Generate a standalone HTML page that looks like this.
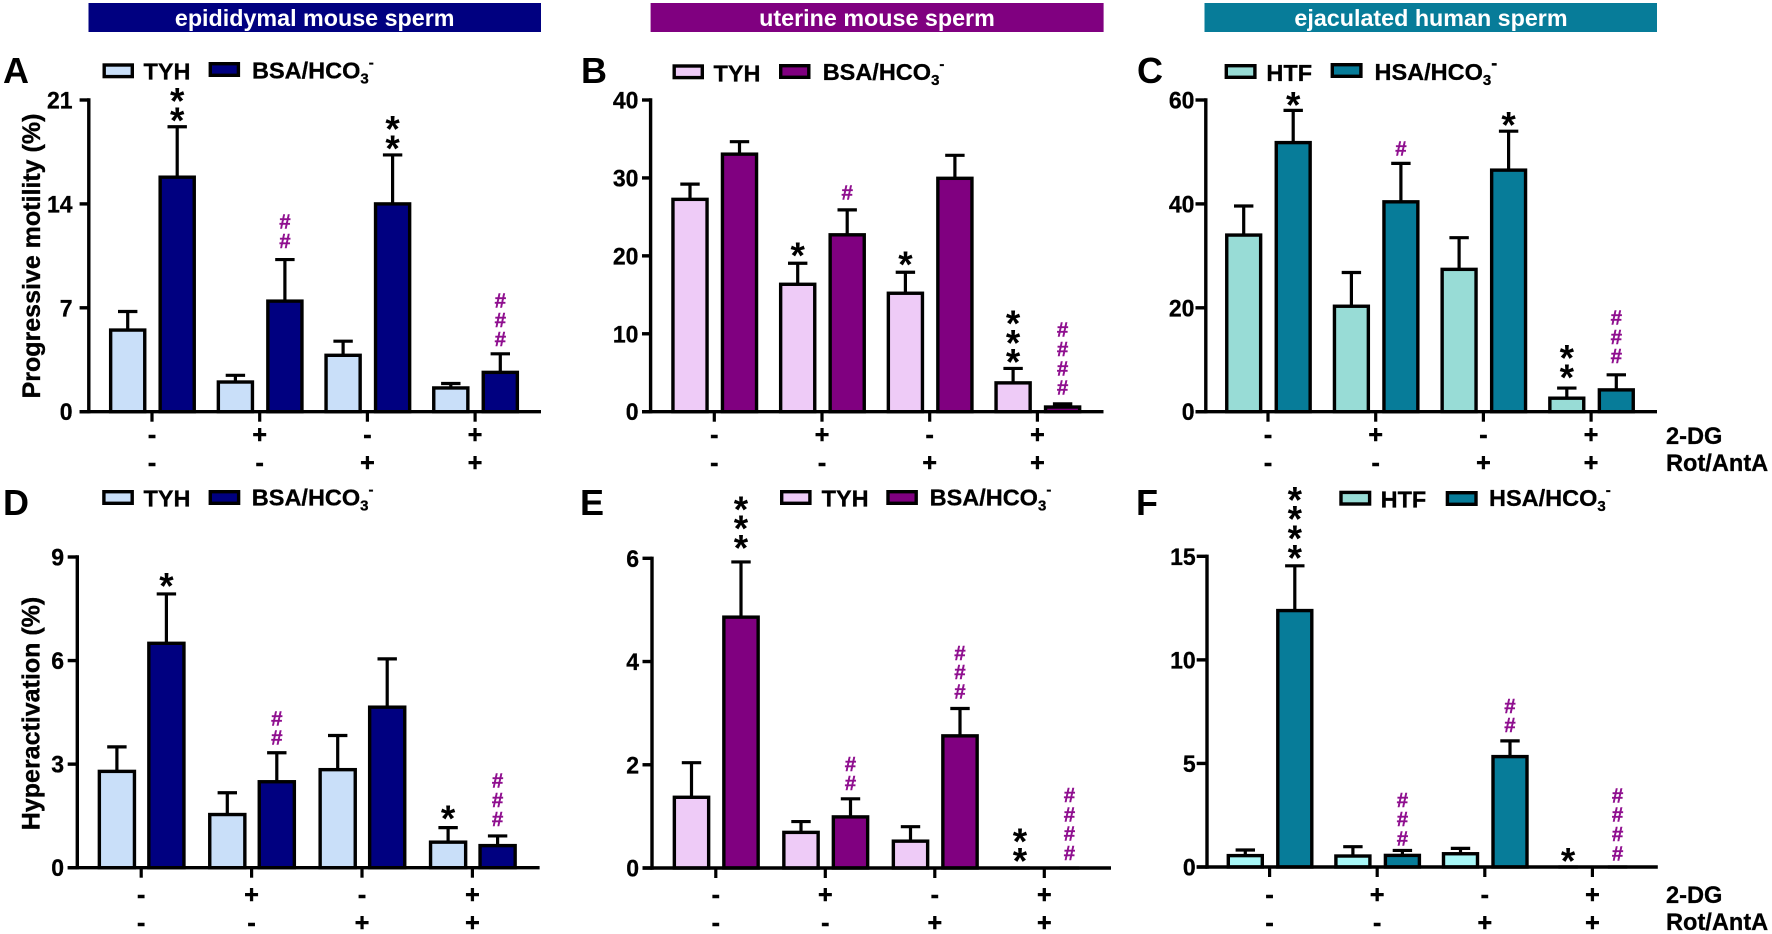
<!DOCTYPE html>
<html lang="en">
<head>
<meta charset="utf-8">
<title>Progressive motility and hyperactivation of sperm</title>
<style>
html,body{margin:0;padding:0;background:#fff;}
svg{display:block;font-family:"Liberation Sans",sans-serif;font-weight:bold;}
</style>
</head>
<body>
<svg id="figure" xmlns="http://www.w3.org/2000/svg" width="1772" height="934" viewBox="0 0 1772 934">
  <rect x="0" y="0" width="1772" height="934" fill="#ffffff"/>
  <g text-anchor="middle" fill="#ffffff" font-size="23.3">
    <rect x="88.5" y="3" width="452.5" height="29" fill="#000080"/>
    <text x="314.7" y="26">epididymal mouse sperm</text>
    <rect x="650.6" y="3" width="453" height="29" fill="#800080"/>
    <text x="877" y="26">uterine mouse sperm</text>
    <rect x="1204.5" y="3" width="452.5" height="29" fill="#077c99"/>
    <text x="1431" y="26">ejaculated human sperm</text>
  </g>
  <g font-size="23.6" fill="#000" stroke="#000" stroke-width="0.3">
    <text x="1666" y="444">2-DG</text>
    <text x="1666" y="471">Rot/AntA</text>
    <text x="1666" y="903">2-DG</text>
    <text x="1666" y="930">Rot/AntA</text>
  </g>
</svg>
<script>
// Shared x-axis treatment rows
const twoDgRow = ['-', '+', '-', '+'];
const rotAntARow = ['-', '-', '+', '+'];

// Panel A: progressive motility, epididymal mouse sperm
const aTicks = [0, 7, 14, 21];
const aControl = [5.5, 2.0, 3.8, 1.6];
const aControlErr = [1.25, 0.45, 0.95, 0.3];
const aTreated = [15.8, 7.45, 14.0, 2.65];
const aTreatedErr = [3.4, 2.8, 3.3, 1.25];
const aStars = [0, 2, 0, 0, 0, 2, 0, 0];
const aHashes = [0, 0, 0, 2, 0, 0, 0, 3];

// Panel B: progressive motility, uterine mouse sperm
const bTicks = [0, 10, 20, 30, 40];
const bControl = [27.25, 16.35, 15.2, 3.7];
const bControlErr = [1.95, 2.7, 2.7, 1.85];
const bTreated = [33.05, 22.7, 29.95, 0.6];
const bTreatedErr = [1.6, 3.2, 2.95, 0.4];
const bStars = [0, 0, 1, 0, 1, 0, 3, 0];
const bHashes = [0, 0, 0, 1, 0, 0, 0, 4];

// Panel C: progressive motility, ejaculated human sperm
const cTicks = [0, 20, 40, 60];
const cControl = [34.0, 20.3, 27.4, 2.6];
const cControlErr = [5.6, 6.5, 6.1, 1.95];
const cTreated = [51.8, 40.4, 46.5, 4.2];
const cTreatedErr = [6.2, 7.4, 7.5, 2.9];
const cStars = [0, 1, 0, 0, 0, 1, 2, 0];
const cHashes = [0, 0, 0, 1, 0, 0, 0, 3];

// Panel D: hyperactivation, epididymal mouse sperm
const dTicks = [0, 3, 6, 9];
const dControl = [2.79, 1.54, 2.84, 0.74];
const dControlErr = [0.71, 0.63, 0.99, 0.42];
const dTreated = [6.5, 2.49, 4.65, 0.64];
const dTreatedErr = [1.43, 0.84, 1.4, 0.28];
const dStars = [0, 1, 0, 0, 0, 0, 1, 0];
const dHashes = [0, 0, 0, 2, 0, 0, 0, 3];

// Panel E: hyperactivation, uterine mouse sperm
const eTicks = [0, 2, 4, 6];
const eControl = [1.37, 0.69, 0.52, 0];
const eControlErr = [0.67, 0.21, 0.28, 0];
const eTreated = [4.86, 0.99, 2.56, 0];
const eTreatedErr = [1.07, 0.35, 0.53, 0];
const eStars = [0, 3, 0, 0, 0, 0, 2, 0];
const eHashes = [0, 0, 0, 2, 0, 3, 0, 4];

// Panel F: hyperactivation, ejaculated human sperm
const fTicks = [0, 5, 10, 15];
const fControl = [0.55, 0.53, 0.64, 0];
const fControlErr = [0.27, 0.45, 0.26, 0];
const fTreated = [12.38, 0.56, 5.33, 0];
const fTreatedErr = [2.16, 0.24, 0.76, 0];
const fStars = [0, 4, 0, 0, 0, 0, 1, 0];
const fHashes = [0, 0, 0, 3, 0, 2, 0, 4];

const NS = 'http://www.w3.org/2000/svg';
const figure = document.getElementById('figure');

function make(tag, parent, attrs, text) {
  const el = document.createElementNS(NS, tag);
  for (const k in attrs) { el.setAttribute(k, attrs[k]); }
  if (text !== undefined) { el.textContent = text; }
  parent.appendChild(el);
  return el;
}

const panels = [
  { id: 'a', letter: 'A', letterX: 3, letterY: 83, yTitle: 'Progressive motility (%)', titleX: 40, titleY: 256,
    axisX: 88.8, top: 100, base: 411.7, tickLeft: 79.6, xEnd: 541, labelGap: 7, group0: 152, groupStep: 107.7, barW: 37.5,
    row1Y: 443, row2Y: 471, ticks: aTicks, control: aControl, controlErr: aControlErr, treated: aTreated, treatedErr: aTreatedErr, stars: aStars, hashes: aHashes,
    starGap: { 1: 14.3, 5: 14.6 }, hashGap: { 3: 18.7, 7: 14.7 }, supSize: 15,
    light: '#c9dff9', dark: '#000080', legendLight: '#c9dff9', names: ['TYH', 'BSA/HCO'],
    sw1: [102.5, 63.3], sw2: [208.6, 62], swW: 31.5, swH: 15, t1: [143.5, 79.3], t2: [252, 78.3] },
  { id: 'b', letter: 'B', letterX: 581, letterY: 83, axisX: 650.6, top: 100, base: 411.7, tickLeft: 642, xEnd: 1103.5, labelGap: 3.5, group0: 714.3, groupStep: 107.7, barW: 37.5,
    row1Y: 443, row2Y: 471, ticks: bTicks, control: bControl, controlErr: bControlErr, treated: bTreated, treatedErr: bTreatedErr, stars: bStars, hashes: bHashes,
    starGap: { 2: 16, 4: 15.6, 6: 14.3 }, hashGap: { 3: 17.3, 7: 16.3 }, supSize: 15,
    light: '#eecbf7', dark: '#800080', legendLight: '#eecbf7', names: ['TYH', 'BSA/HCO'],
    sw1: [672.5, 64.3], sw2: [779, 64], swW: 31.5, swH: 15, t1: [713.5, 81.7], t2: [822.7, 80] },
  { id: 'c', letter: 'C', letterX: 1137, letterY: 83, axisX: 1205.8, top: 100, base: 411.7, tickLeft: 1195.5, xEnd: 1657, labelGap: 1, group0: 1268, groupStep: 107.7, barW: 37.3,
    row1Y: 443, row2Y: 471, ticks: cTicks, control: cControl, controlErr: cControlErr, treated: cTreated, treatedErr: cTreatedErr, stars: cStars, hashes: cHashes,
    starGap: { 1: 13.6, 5: 14.3, 6: 18.7 }, hashGap: { 3: 15, 7: 18.7 }, supSize: 18,
    light: '#98dcd6', dark: '#077c99', legendLight: '#98dcd6', names: ['HTF', 'HSA/HCO'],
    sw1: [1224.6, 64], sw2: [1330.6, 63], swW: 32, swH: 15, t1: [1266.4, 81], t2: [1374.5, 80] },
  { id: 'd', letter: 'D', letterX: 3, letterY: 515, yTitle: 'Hyperactivation (%)', titleX: 39.5, titleY: 713.5,
    axisX: 77.3, top: 557, base: 867.7, tickLeft: 67.7, xEnd: 539.6, labelGap: 3.7, group0: 141.2, groupStep: 110.4, barW: 38.5,
    row1Y: 903, row2Y: 931, ticks: dTicks, control: dControl, controlErr: dControlErr, treated: dTreated, treatedErr: dTreatedErr, stars: dStars, hashes: dHashes,
    starGap: { 1: 16, 6: 17 }, hashGap: { 3: 15, 7: 16.7 }, supSize: 15,
    light: '#c9dff9', dark: '#000080', legendLight: '#c9dff9', names: ['TYH', 'BSA/HCO'],
    sw1: [102.2, 490], sw2: [208.6, 490], swW: 31.7, swH: 15, t1: [143.5, 506.7], t2: [251.8, 505.7] },
  { id: 'e', letter: 'E', letterX: 580, letterY: 515, axisX: 652, top: 558.3, base: 868, tickLeft: 642.5, xEnd: 1111, labelGap: 3.5, group0: 715.8, groupStep: 109.5, barW: 37.7,
    row1Y: 903, row2Y: 931, ticks: eTicks, control: eControl, controlErr: eControlErr, treated: eTreated, treatedErr: eTreatedErr, stars: eStars, hashes: eHashes,
    starGap: { 1: 22, 6: 15 }, hashGap: { 3: 15.7, 5: 17, 7: 15 }, supSize: 15,
    light: '#eecbf7', dark: '#800080', legendLight: '#eecbf7', names: ['TYH', 'BSA/HCO'],
    sw1: [780, 490], sw2: [886.3, 490], swW: 31.6, swH: 15, t1: [821.6, 506.7], t2: [929.6, 505.7] },
  { id: 'f', letter: 'F', letterX: 1136, letterY: 515, axisX: 1207, top: 556.3, base: 867, tickLeft: 1196.7, xEnd: 1657.8, labelGap: 1, group0: 1269.6, groupStep: 107.6, barW: 37.4,
    row1Y: 903, row2Y: 931, ticks: fTicks, control: fControl, controlErr: fControlErr, treated: fTreated, treatedErr: fTreatedErr, stars: fStars, hashes: fHashes,
    starGap: { 1: 16, 6: 14 }, hashGap: { 3: 12, 5: 15.7, 7: 13.7 }, supSize: 15,
    light: '#a9f8f8', dark: '#077c99', legendLight: '#98dcd6', names: ['HTF', 'HSA/HCO'],
    sw1: [1339.3, 490.7], sw2: [1445.7, 491], swW: 32, swH: 15, t1: [1380.6, 507.3], t2: [1489, 506] }
];

const STROKE = 3.4;

function drawPanel(p) {
  const g = make('g', figure, {});
  
  

  const maxTick = p.ticks[p.ticks.length - 1];
  const yScale = v => p.base - (p.base - p.top) * v / maxTick;
  const xScale = i => p.group0 + i * p.groupStep;

  const letter = make('text', g, { x: p.letterX, y: p.letterY, 'font-size': 36, fill: '#000' }, p.letter);
  
  

  if (p.yTitle) {
    const title = make('text', g, { x: 0, y: 0, 'font-size': 25, fill: '#000', stroke: '#000', 'stroke-width': 0.35, 'text-anchor': 'middle', transform: 'translate(' + p.titleX + ' ' + p.titleY + ') rotate(-90)' }, p.yTitle);
    
    
  }

  // Bars, error bars and significance marks
  const series = [
    { key: 'control', vals: p.control, errs: p.controlErr, fill: p.light, off: -24.3 },
    { key: 'treated', vals: p.treated, errs: p.treatedErr, fill: p.dark, off: 25.2 }
  ];
  series.forEach((s, si) => {
    s.vals.forEach((v, i) => {
      const cx = xScale(i) + s.off;
      const yv = yScale(v);
      const yErr = yScale(v + s.errs[i]);
      const stem = make('line', g, { x1: cx, x2: cx, y1: yv, y2: yErr, stroke: '#000', 'stroke-width': 3.2 });
      
      
      const cap = make('line', g, { x1: cx - 9.7, x2: cx + 9.7, y1: yErr, y2: yErr, stroke: '#000', 'stroke-width': 3.2 });
      
      
      const bar = make('rect', g, { x: cx - (p.barW - STROKE) / 2, y: yv, width: p.barW - STROKE, height: Math.max(0, p.base - yv), fill: s.fill, stroke: '#000', 'stroke-width': STROKE });
      
      

      const idx = i * 2 + si;
      const starLift = p.starGap[idx] || 16;
      const hashLift = p.hashGap[idx] || 16;
      for (let n = 0; n < p.stars[idx]; n++) {
        const star = make('text', g, { x: cx, y: yErr - starLift - n * 19.3 + 20.5, 'font-size': 37, 'text-anchor': 'middle', fill: '#000' }, '*');
        
        
      }
      for (let n = 0; n < p.hashes[idx]; n++) {
        const hash = make('text', g, { x: cx, y: yErr - hashLift - n * 19.3 + 7, 'font-size': 20.5, 'text-anchor': 'middle', fill: '#8f0f8f', stroke: '#8f0f8f', 'stroke-width': 0.4 }, '#');
        
        
      }
    });
  });

  // Axes
  const yAxis = make('line', g, { x1: p.axisX, x2: p.axisX, y1: p.top - 1.7, y2: p.base + 1.7, stroke: '#000', 'stroke-width': STROKE });
  
  
  const xAxis = make('line', g, { x1: p.tickLeft, x2: p.xEnd, y1: p.base, y2: p.base, stroke: '#000', 'stroke-width': STROKE });
  
  

  p.ticks.forEach(t => {
    const y = yScale(t);
    const tick = make('line', g, { x1: p.tickLeft, x2: p.axisX, y1: y, y2: y, stroke: '#000', 'stroke-width': STROKE });
    
    
    const labelText = String(t);
    const label = make('text', g, { x: p.tickLeft - p.labelGap, y: y + 8.5, 'font-size': 24.5, 'text-anchor': 'end', fill: '#000', stroke: '#000', 'stroke-width': 0.3, textLength: labelText.length * 12.8, lengthAdjust: 'spacingAndGlyphs' }, labelText);
    
    
  });

  twoDgRow.forEach((sign, i) => {
    const x = xScale(i);
    const tick = make('line', g, { x1: x, x2: x, y1: p.base, y2: p.base + 10, stroke: '#000', 'stroke-width': 3.2 });
    
    
    const top = make('text', g, { x: x, y: p.row1Y, 'font-size': 25, 'text-anchor': 'middle', fill: '#000', stroke: '#000', 'stroke-width': 0.5 }, sign);
    
    
    const bottom = make('text', g, { x: x, y: p.row2Y, 'font-size': 25, 'text-anchor': 'middle', fill: '#000', stroke: '#000', 'stroke-width': 0.5 }, rotAntARow[i]);
    
    
  });

  // Legend
  const legend = make('g', g, {});
  
  
  const sw1 = make('rect', legend, { x: p.sw1[0] + 1.7, y: p.sw1[1] + 1.7, width: p.swW - STROKE, height: p.swH - STROKE, fill: p.legendLight, stroke: '#000', 'stroke-width': STROKE });
  
  
  const t1 = make('text', legend, { x: p.t1[0], y: p.t1[1], 'font-size': 23.5, fill: '#000', stroke: '#000', 'stroke-width': 0.3 }, p.names[0]);
  
  
  const sw2 = make('rect', legend, { x: p.sw2[0] + 1.7, y: p.sw2[1] + 1.7, width: p.swW - STROKE, height: p.swH - STROKE, fill: p.dark, stroke: '#000', 'stroke-width': STROKE });
  
  
  const t2 = make('text', legend, { x: p.t2[0], y: p.t2[1], 'font-size': 23.5, fill: '#000', stroke: '#000', 'stroke-width': 0.3 }, p.names[1]);
  
  
  make('tspan', t2, { 'font-size': 15, dy: 5 }, '3');
  make('tspan', t2, { 'font-size': p.supSize, dy: -16 }, '-');
}

panels.forEach(drawPanel);
</script>
</body>
</html>
